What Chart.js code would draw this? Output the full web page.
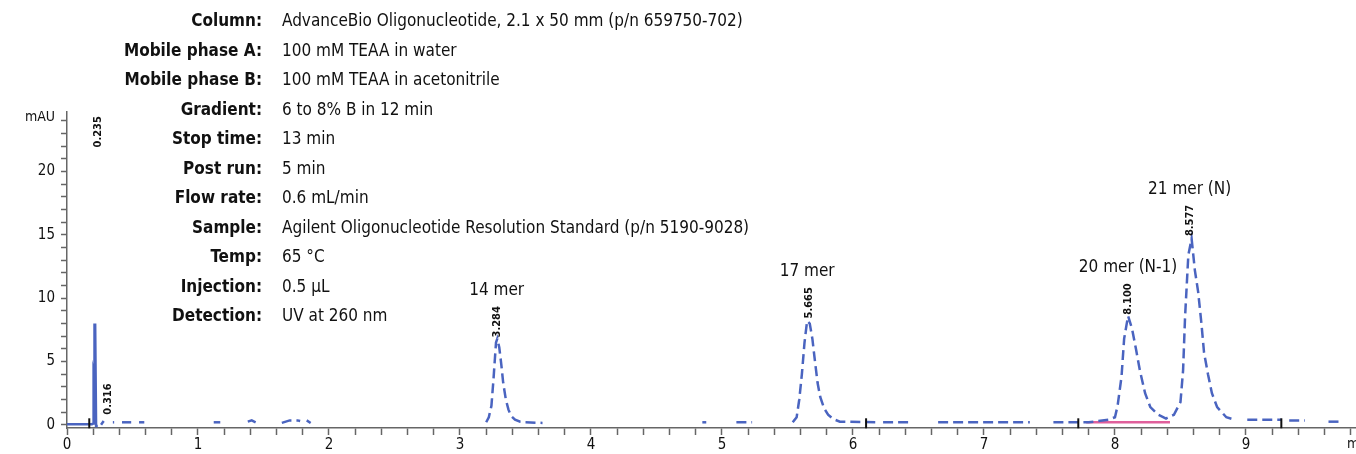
<!DOCTYPE html>
<html>
<head>
<meta charset="utf-8">
<script src="https://cdn.jsdelivr.net/npm/chart.js@4/dist/chart.umd.min.js"></script>
<style>
  html, body { margin: 0; padding: 0; background: #fff; }
  #wrap { width: 1356px; height: 454px; }
</style>
</head>
<body>
<div id="wrap"><canvas id="chromChart" width="1356" height="454"></canvas></div>
<script>
  // trace: time (min) / absorbance (mAU), null = no visible line
  const traceTimes = [
    0, 0.19, 0.2, 0.203, 0.207, 0.21, 0.215, 0.222, 0.235,
    0.25, 0.26, 0.28,
    0.3, 0.35, 0.36,
    0.38, 0.42, 0.49,
    0.52, 0.55, 0.59,
    0.7, 1.12, 1.17,
    1.3, 1.38, 1.41, 1.44,
    1.55, 1.64, 1.7, 1.76, 1.78,
    1.8, 1.83, 1.86,
    2.5, 3.2, 3.22, 3.24, 3.255, 3.265, 3.275, 3.285, 3.3, 3.315, 3.33, 3.35, 3.37, 3.39, 3.42, 3.46, 3.5, 3.63,
    4.0, 4.85, 4.88,
    5.0, 5.11, 5.23,
    5.4, 5.54, 5.57, 5.59, 5.61, 5.63, 5.65, 5.67, 5.69, 5.71, 5.73, 5.75, 5.78, 5.81, 5.85, 5.9, 6.17,
    6.2, 6.23, 6.45,
    6.55, 6.65, 7.35,
    7.45, 7.53, 7.8, 7.95, 8.0, 8.02, 8.05, 8.07, 8.1, 8.13, 8.16, 8.19, 8.23, 8.27, 8.33, 8.39,
    8.45, 8.5, 8.52, 8.535, 8.56, 8.585, 8.61, 8.635, 8.66, 8.68, 8.71, 8.74, 8.78, 8.85, 8.9,
    8.95, 9.01, 9.27,
    9.3, 9.33, 9.45,
    9.55, 9.63, 9.72
  ];
  const traceValues = [
    0.05, 0.05, 0.1, 4.2, 4.0, 7.9, 7.9, -0.1, -0.1,
    null, 0.0, 0.3,
    null, 0.2, 0.2,
    null, 0.2, 0.2,
    null, 0.2, 0.2,
    null, 0.2, 0.2,
    null, 0.25, 0.35, 0.2,
    null, 0.15, 0.35, 0.35, 0.3,
    null, 0.35, 0.15,
    null, 0.2, 0.6, 1.5, 3.5, 5.0, 6.5, 6.8, 6.1, 4.8, 3.3, 2.0, 1.2, 0.7, 0.4, 0.25, 0.2, 0.15,
    null, 0.2, 0.2,
    null, 0.2, 0.2,
    null, 0.2, 0.6, 2.0, 4.0, 6.5, 8.2, 8.0, 6.8, 5.0, 3.3, 2.2, 1.3, 0.8, 0.45, 0.25, 0.2,
    null, 0.2, 0.2,
    null, 0.2, 0.2,
    null, 0.2, 0.2, 0.4, 0.6, 1.5, 3.8, 6.8, 8.6, 7.6, 6.0, 4.3, 2.5, 1.4, 0.8, 0.5,
    0.8, 1.8, 4.3, 8.5, 13.4, 14.7, 12.2, 10.5, 8.0, 5.7, 4.0, 2.5, 1.4, 0.6, 0.45,
    null, 0.4, 0.4,
    null, 0.35, 0.35,
    null, 0.25, 0.25
  ];

  // baseline drawn by the integrator under the 20/21 mer pair
  const baselineTimes = [7.78, 8.42];
  const baselineValues = [0.2, 0.2];

  // retention times printed above each peak, and the height (mAU) where each label sits
  const rtTimes = [0.235, 0.316, 3.284, 5.665, 8.100, 8.577];
  const rtAnchor = [21.9, 0.8, 6.9, 8.4, 8.7, 14.9];

  const peakNames = ['14 mer', '17 mer', '20 mer (N-1)', '21 mer (N)'];
  const peakNameTimes = [3.28, 5.65, 8.10, 8.57];
  const peakNameAnchor = [6.9, 8.4, 8.7, 14.9];

  // integration event marks
  const eventTimes = [0.17, 6.1, 7.72, 9.27];

  const condLabels = ['Column:', 'Mobile phase A:', 'Mobile phase B:', 'Gradient:', 'Stop time:',
    'Post run:', 'Flow rate:', 'Sample:', 'Temp:', 'Injection:', 'Detection:'];
  const condValues = ['AdvanceBio Oligonucleotide, 2.1 x 50 mm (p/n 659750-702)', '100 mM TEAA in water',
    '100 mM TEAA in acetonitrile', '6 to 8% B in 12 min', '13 min', '5 min', '0.6 mL/min',
    'Agilent Oligonucleotide Resolution Standard (p/n 5190-9028)', '65 °C', '0.5 µL', 'UV at 260 nm'];

  const FONT = '"Liberation Sans Narrow", "DejaVu Sans Condensed", "Roboto", sans-serif';
  const BLUE = '#4a64c0';

  const tracePoints = traceTimes.map((t, i) => ({ x: t, y: traceValues[i] }));
  const basePoints = baselineTimes.map((t, i) => ({ x: t, y: baselineValues[i] }));

  const isWhole = v => Math.abs(v - Math.round(v)) < 1e-6;

  const annotations = {
    id: 'annotations',
    afterDraw(chart) {
      const { ctx, scales: { x, y } } = chart;
      ctx.save();

      // method conditions block
      ctx.fillStyle = '#111';
      ctx.textBaseline = 'middle';
      condLabels.forEach((lab, i) => {
        const yy = 22 + i * 29.5;
        ctx.font = 'bold 17px ' + FONT;
        ctx.textAlign = 'right';
        ctx.fillText(lab, 262, yy);
        ctx.font = '17px ' + FONT;
        ctx.textAlign = 'left';
        ctx.fillText(condValues[i], 282, yy);
      });

      // axis units
      ctx.font = '14px ' + FONT;
      ctx.textAlign = 'right';
      ctx.fillText('mAU', 55, 117);
      ctx.textAlign = 'left';
      ctx.fillText('min', 1347, 444);

      // peak names
      ctx.font = '17px ' + FONT;
      ctx.textAlign = 'center';
      peakNames.forEach((name, i) => {
        ctx.fillText(name, x.getPixelForValue(peakNameTimes[i]), y.getPixelForValue(peakNameAnchor[i]) - 47);
      });

      // rotated retention times
      ctx.font = 'bold 11px ' + FONT;
      rtTimes.forEach((t, i) => {
        ctx.save();
        ctx.translate(x.getPixelForValue(t), y.getPixelForValue(rtAnchor[i]));
        ctx.rotate(-Math.PI / 2);
        ctx.textAlign = 'left';
        ctx.fillText(t.toFixed(3), 0, 0);
        ctx.restore();
      });

      // event marks
      ctx.strokeStyle = '#111';
      ctx.lineWidth = 2;
      eventTimes.forEach(t => {
        const px = x.getPixelForValue(t);
        const py = y.getPixelForValue(0.2);
        ctx.beginPath();
        ctx.moveTo(px, py - 4);
        ctx.lineTo(px, py + 6);
        ctx.stroke();
      });
      ctx.restore();
    }
  };

  new Chart(document.getElementById('chromChart'), {
    type: 'line',
    data: {
      datasets: [
        {
          label: 'Baseline',
          data: basePoints,
          borderColor: '#e0609c',
          borderWidth: 2.5,
          pointRadius: 0,
          order: 1
        },
        {
          label: 'UV 260 nm',
          data: tracePoints,
          borderColor: BLUE,
          borderWidth: 2.5,
          pointRadius: 0,
          spanGaps: false,
          tension: 0,
          segment: {
            borderDash: c => c.p0.parsed.x < 0.24 ? [] : [10, 5]
          },
          order: 0
        }
      ]
    },
    options: {
      responsive: false,
      animation: false,
      devicePixelRatio: 1,
      layout: { padding: { top: 112, right: 0, left: 0, bottom: 0 } },
      plugins: {
        legend: { display: false },
        tooltip: { enabled: false }
      },
      scales: {
        x: {
          type: 'linear',
          min: 0,
          max: 9.84,
          afterFit: s => { s.height = 26; },
          ticks: {
            stepSize: 0.2,
            includeBounds: false,
            autoSkip: false,
            maxRotation: 0,
            padding: 1,
            color: '#111',
            font: { family: FONT, size: 15 },
            callback: v => isWhole(v) ? String(Math.round(v)) : ''
          },
          grid: { drawOnChartArea: false, tickLength: 7, color: '#666', tickWidth: 1.5 },
          border: { color: '#666', width: 1.5 }
        },
        y: {
          min: -0.25,
          max: 24.7,
          afterFit: s => { s.width = 67; },
          ticks: {
            stepSize: 1,
            includeBounds: false,
            autoSkip: false,
            padding: 6,
            color: '#111',
            font: { family: FONT, size: 15 },
            callback: v => isWhole(v) && Math.round(v) % 5 === 0 ? String(Math.round(v)) : ''
          },
          grid: { drawOnChartArea: false, tickLength: 6, color: '#666', tickWidth: 1.5 },
          border: { color: '#666', width: 1.5 }
        }
      }
    },
    plugins: [annotations]
  });
</script>
</body>
</html>
